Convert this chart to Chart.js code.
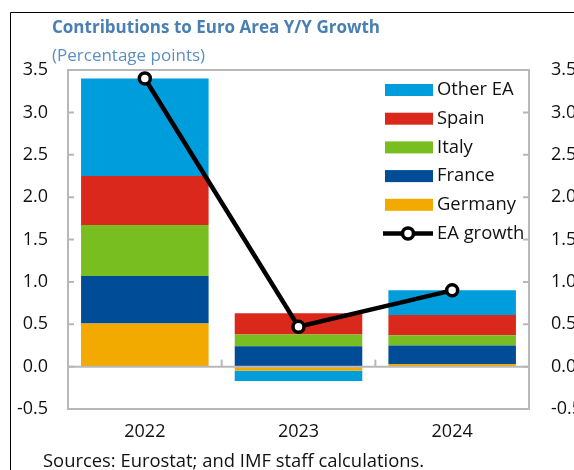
<!DOCTYPE html>
<html>
<head>
<meta charset="utf-8">
<script src="https://cdn.jsdelivr.net/npm/chart.js@4.4.0/dist/chart.umd.min.js"></script>
<style>
html, body { margin: 0; padding: 0; background: #fff; overflow: hidden; }
#wrap { position: absolute; left: 0; top: 0; width: 600px; height: 470px; }
</style>
</head>
<body>
<div id="wrap"><canvas id="chart" width="600" height="470"></canvas></div>
<script>
// Data
const years = ['2022', '2023', '2024'];
const germany = [0.51, -0.05, 0.03];
const france = [0.56, 0.24, 0.22];
const italy = [0.60, 0.14, 0.12];
const spain = [0.58, 0.25, 0.24];
const otherEA = [1.15, -0.12, 0.29];
const eaGrowth = [3.40, 0.47, 0.90];
const yMin = -0.5;
const yMax = 3.5;
const yStep = 0.5;

const FONT = "'Open Sans', 'Noto Sans', sans-serif";
const AXIS_GRAY = '#b8b8b8';

// Frame, inward tick marks and zero line
const framePlugin = {
    id: 'frame',
    afterDatasetsDraw(chart) {
        const ctx = chart.ctx;
        const a = chart.chartArea;
        const y = chart.scales.y;
        const x = chart.scales.x;
        ctx.save();
        ctx.strokeStyle = AXIS_GRAY;
        ctx.lineWidth = 2;
        ctx.strokeRect(a.left, a.top, a.right - a.left, a.bottom - a.top);

        const zero = y.getPixelForValue(0);
        ctx.beginPath();
        ctx.moveTo(a.left, zero);
        ctx.lineTo(a.right, zero);
        ctx.stroke();

        // y ticks, inward on both sides
        y.ticks.forEach(t => {
            const py = y.getPixelForValue(t.value);
            ctx.beginPath();
            ctx.moveTo(a.left, py);
            ctx.lineTo(a.left + 6, py);
            ctx.moveTo(a.right, py);
            ctx.lineTo(a.right - 6, py);
            ctx.stroke();
        });

        // x ticks at category boundaries, pointing up from zero line
        for (let i = 1; i < years.length; i++) {
            const px = (x.getPixelForValue(i - 1) + x.getPixelForValue(i)) / 2;
            ctx.beginPath();
            ctx.moveTo(px, zero);
            ctx.lineTo(px, zero - 7);
            ctx.stroke();
        }
        ctx.restore();
    }
};

// Title, subtitle, source note and outer border
const textPlugin = {
    id: 'texts',
    afterDraw(chart) {
        const ctx = chart.ctx;
        ctx.save();
        ctx.strokeStyle = '#000';
        ctx.lineWidth = 1;
        ctx.beginPath();
        ctx.moveTo(10.5, 480);
        ctx.lineTo(10.5, 12.5);
        ctx.lineTo(620, 12.5);
        ctx.stroke();

        ctx.textBaseline = 'middle';
        ctx.textAlign = 'left';
        ctx.fillStyle = '#4a7fb3';
        ctx.font = 'bold 17px ' + FONT;
        ctx.fillText('Contributions to Euro Area Y/Y Growth', 52, 28);
        ctx.fillStyle = '#5b8fc4';
        ctx.font = '17px ' + FONT;
        ctx.fillText('(Percentage points)', 52, 56);

        ctx.fillStyle = '#111';
        ctx.font = '18.4px ' + FONT;
        ctx.textBaseline = 'alphabetic';
        ctx.fillText('Sources: Eurostat; and IMF staff calculations.', 43, 467);
        ctx.restore();
    }
};

// Legend drawn inside the plot area
const legendPlugin = {
    id: 'innerLegend',
    afterDraw(chart) {
        const ctx = chart.ctx;
        const ds = chart.data.datasets;
        const order = ['Other EA', 'Spain', 'Italy', 'France', 'Germany', 'EA growth'];
        ctx.save();
        ctx.font = '18.4px ' + FONT;
        ctx.textBaseline = 'middle';
        ctx.textAlign = 'left';
        order.forEach((name, i) => {
            const d = ds.find(s => s.label === name);
            const cy = 90 + i * 28.7;
            if (d.type === 'line') {
                ctx.strokeStyle = '#000';
                ctx.lineWidth = 4.5;
                ctx.beginPath();
                ctx.moveTo(383, cy);
                ctx.lineTo(433, cy);
                ctx.stroke();
                ctx.beginPath();
                ctx.arc(408, cy, 5.5, 0, Math.PI * 2);
                ctx.fillStyle = '#fff';
                ctx.fill();
                ctx.lineWidth = 3.5;
                ctx.stroke();
            } else {
                ctx.fillStyle = d.backgroundColor;
                ctx.fillRect(385, cy - 6, 48, 12);
            }
            ctx.fillStyle = '#111';
            ctx.fillText(name, 437, cy);
        });
        ctx.restore();
    }
};

const barStyle = { barPercentage: 0.83, categoryPercentage: 1.0, borderWidth: 0, order: 2, stack: 's' };

const config = {
    type: 'bar',
    data: {
        labels: years,
        datasets: [
            { label: 'EA growth', type: 'line', data: eaGrowth, borderColor: '#000', borderWidth: 4.5,
              pointRadius: 5.5, pointBorderWidth: 3.5, pointBackgroundColor: '#fff', pointBorderColor: '#000',
              tension: 0, order: 0, yAxisID: 'y' },
            Object.assign({ label: 'Germany', data: germany, backgroundColor: '#f2a900' }, barStyle),
            Object.assign({ label: 'France', data: france, backgroundColor: '#004c97' }, barStyle),
            Object.assign({ label: 'Italy', data: italy, backgroundColor: '#78be20' }, barStyle),
            Object.assign({ label: 'Spain', data: spain, backgroundColor: '#da291c' }, barStyle),
            Object.assign({ label: 'Other EA', data: otherEA, backgroundColor: '#009ddc' }, barStyle)
        ]
    },
    options: {
        responsive: false,
        devicePixelRatio: 1,
        animation: false,
        layout: { padding: { top: 70, left: 0, right: 0, bottom: 0 } },
        plugins: { legend: { display: false }, tooltip: { enabled: false } },
        scales: {
            x: {
                stacked: true,
                grid: { display: false, drawTicks: false },
                border: { display: false },
                ticks: { color: '#111', font: { family: FONT, size: 18 }, padding: 12 },
                afterFit(s) { s.height = 61; }
            },
            y: {
                position: 'left',
                stacked: true,
                min: yMin, max: yMax,
                grid: { display: false, drawTicks: false },
                border: { display: false },
                ticks: { stepSize: yStep, color: '#111', font: { family: FONT, size: 18 }, padding: 20,
                         callback: v => v.toFixed(1) },
                afterFit(s) { s.width = 68; }
            },
            y2: {
                position: 'right',
                min: yMin, max: yMax,
                grid: { display: false, drawTicks: false },
                border: { display: false },
                ticks: { stepSize: yStep, color: '#111', font: { family: FONT, size: 18 }, padding: 22,
                         callback: v => v.toFixed(1) },
                afterFit(s) { s.width = 71; }
            }
        }
    },
    plugins: [framePlugin, textPlugin, legendPlugin]
};

new Chart(document.getElementById('chart').getContext('2d'), config);
</script>
</body>
</html>
